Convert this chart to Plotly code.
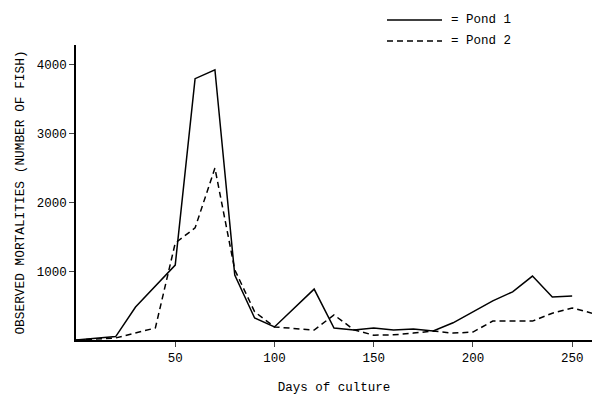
import plotly.graph_objects as go

days_pond1 = [0, 20, 30, 50, 60, 70, 80, 90, 100, 120, 130, 140, 150, 160, 170, 180, 190, 200, 210, 220, 230, 240, 250]
mort_pond1 = [0, 50, 480, 1090, 3800, 3930, 945, 320, 190, 740, 175, 145, 175, 145, 160, 130, 250, 410, 570, 700, 930, 625, 640]

days_pond2 = [0, 20, 40, 50, 60, 70, 80, 90, 100, 120, 130, 140, 150, 160, 170, 180, 190, 200, 210, 220, 230, 240, 250, 260]
mort_pond2 = [0, 30, 175, 1410, 1630, 2500, 1020, 410, 190, 145, 365, 150, 70, 75, 100, 130, 100, 115, 275, 275, 275, 390, 465, 390]

series_names = ["Pond 1", "Pond 2"]
x_ticks = [50, 100, 150, 200, 250]
y_ticks = [1000, 2000, 3000, 4000]

FONT = "Liberation Mono, Courier New, monospace"
DASH = "6px,4px"

fig = go.Figure()
fig.add_trace(go.Scatter(x=days_pond1, y=mort_pond1, mode="lines", name=series_names[0],
                         line=dict(color="black", width=1.5), showlegend=False))
fig.add_trace(go.Scatter(x=days_pond2, y=mort_pond2, mode="lines", name=series_names[1],
                         line=dict(color="black", width=1.5, dash=DASH), showlegend=False))

# hand-made key in the top right, like the typewritten original
L, T, W, H = 76, 45, 516, 295
def px(xp):
    return (xp - L) / W
def py(yp):
    return (T + H - yp) / H

for i, (name, dash) in enumerate(zip(series_names, ["solid", DASH])):
    yk = 20 + 21 * i
    fig.add_shape(type="line", xref="paper", yref="paper",
                  x0=px(387), x1=px(442), y0=py(yk), y1=py(yk),
                  line=dict(color="black", width=1.3, dash=dash))
    fig.add_annotation(xref="paper", yref="paper", x=px(449), y=py(yk),
                       xanchor="left", yanchor="middle", showarrow=False,
                       text="= " + name, font=dict(size=12.5, family=FONT, color="black"))

fig.update_layout(
    width=600, height=395,
    margin=dict(l=L, r=600 - L - W, t=T, b=395 - T - H),
    paper_bgcolor="white", plot_bgcolor="white",
    font=dict(family=FONT, size=12, color="black"),
    showlegend=False,
    xaxis=dict(range=[0, 260], tickvals=x_ticks, ticks="outside", ticklen=5,
               tickwidth=1.2, showline=True, linecolor="black", linewidth=1.5,
               showgrid=False, zeroline=False, tickfont=dict(size=12.5),
               title=dict(text="Days of culture", font=dict(size=12.5), standoff=18),
               automargin=False),
    yaxis=dict(range=[0, 4290], tickvals=y_ticks, ticks="outside", ticklen=5,
               tickwidth=1.2, showline=True, linecolor="black", linewidth=1.5,
               showgrid=False, zeroline=False, tickfont=dict(size=12.5),
               title=dict(text="OBSERVED MORTALITIES (NUMBER OF FISH)",
                          font=dict(size=12.8), standoff=9),
               automargin=False),
)

fig.write_html("out.html")
